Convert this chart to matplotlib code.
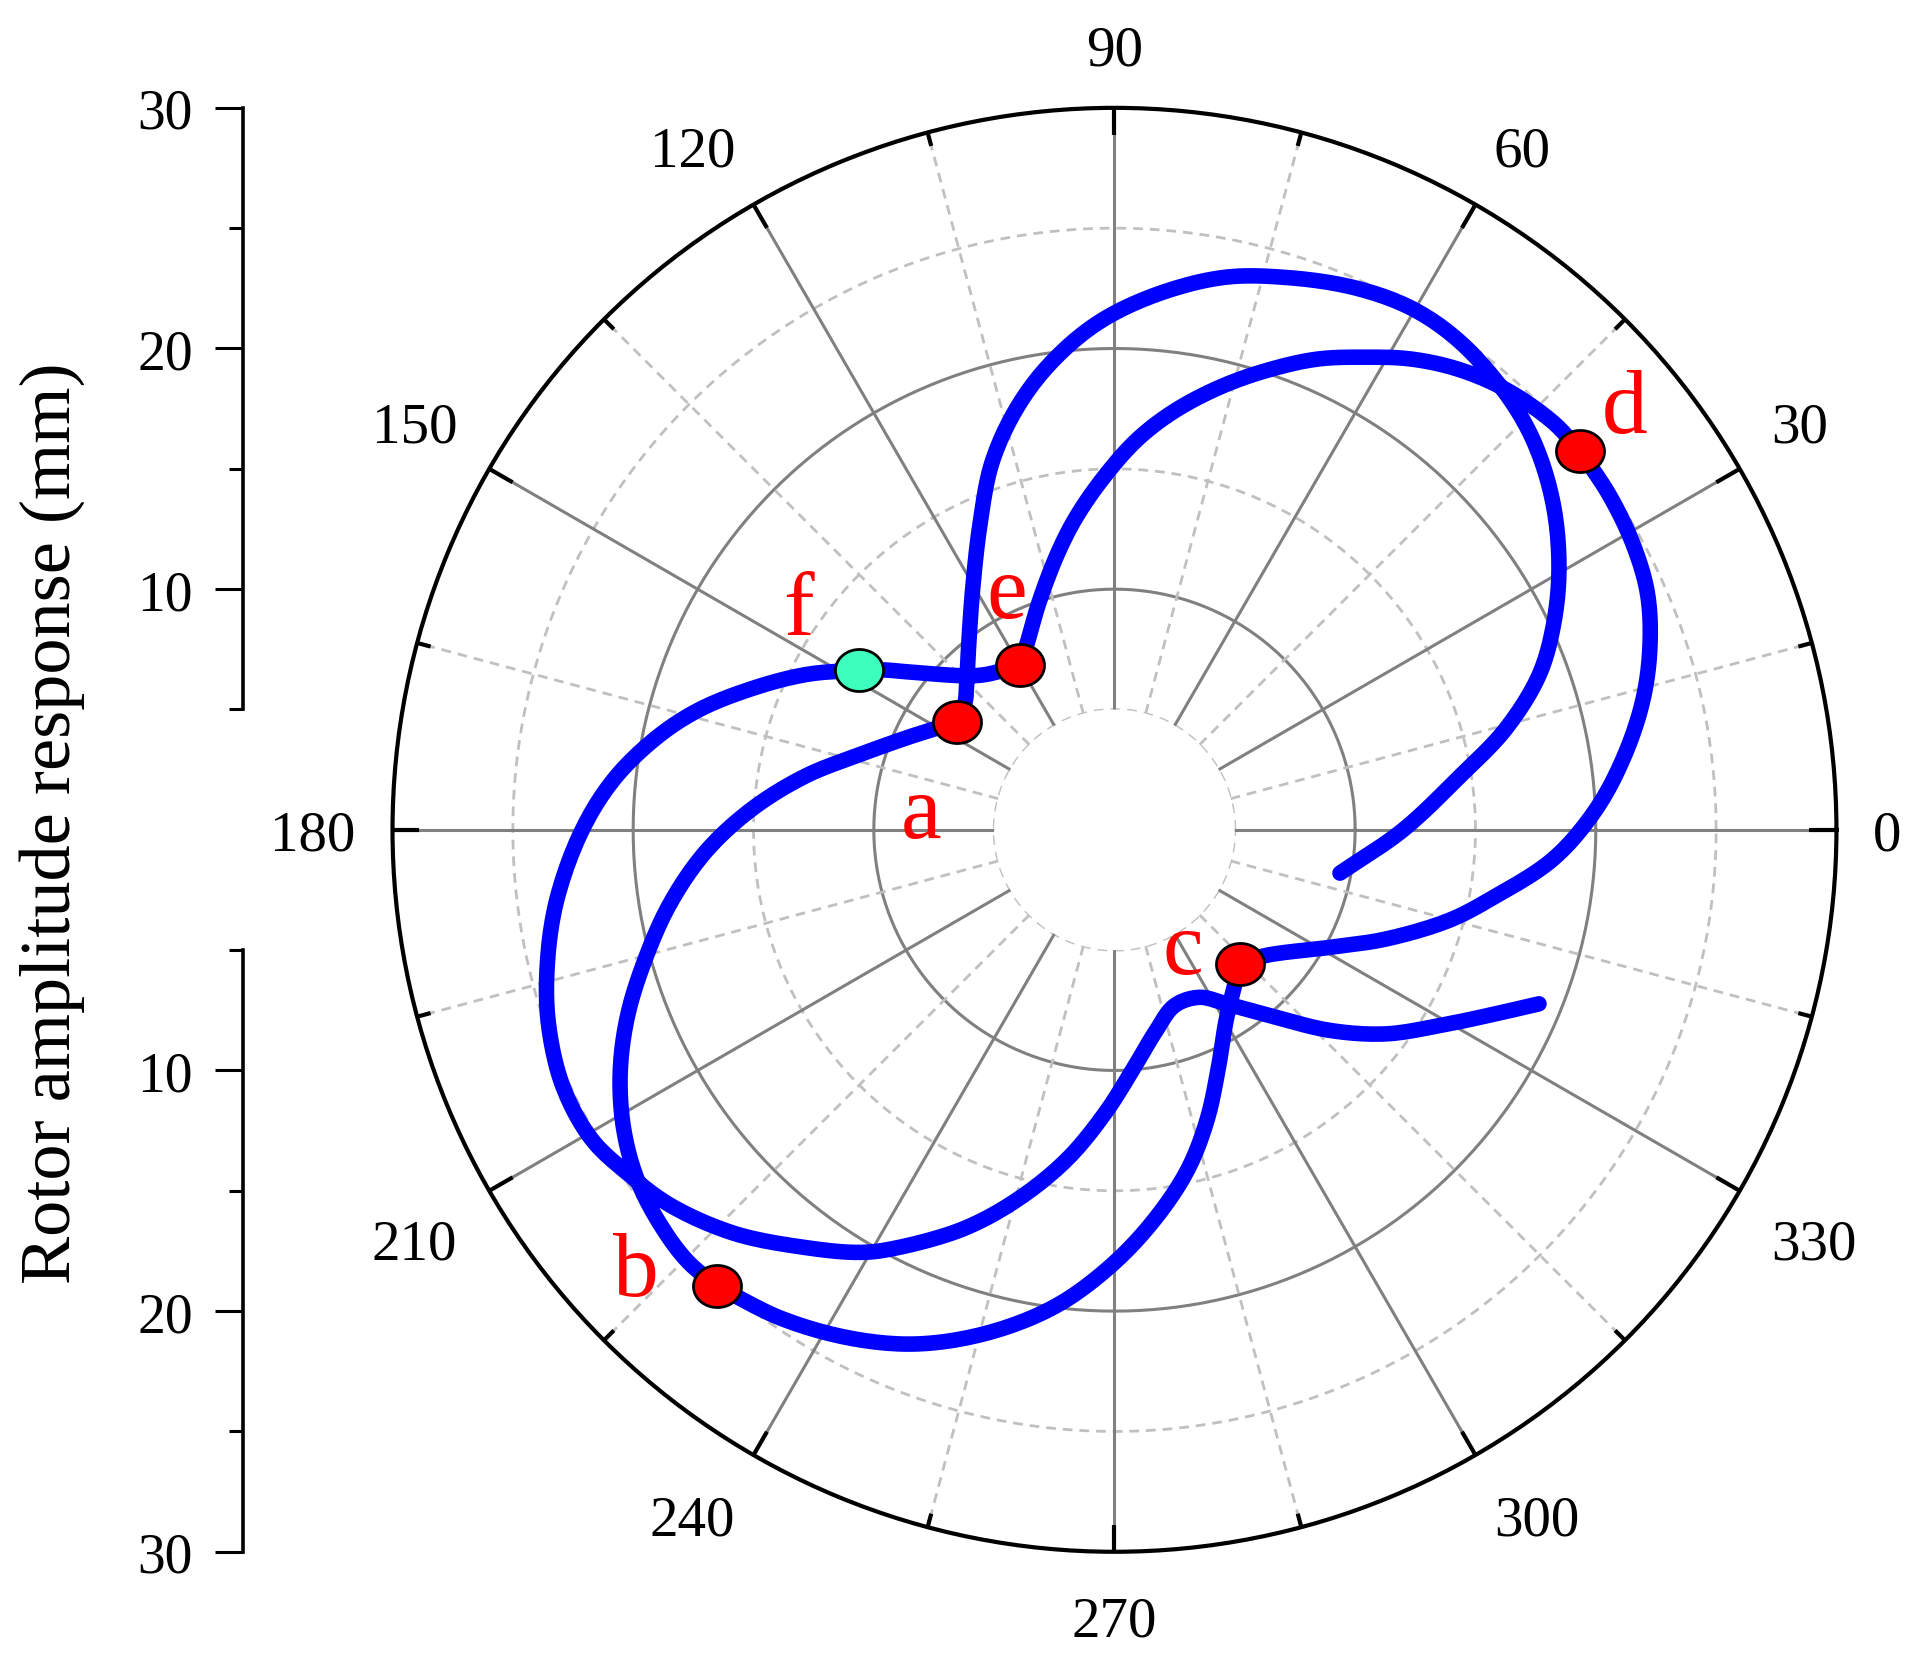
import numpy as np
import matplotlib
matplotlib.use('Agg')
import matplotlib.pyplot as plt
from matplotlib.path import Path

plt.rcParams['font.family'] = ['Liberation Serif', 'DejaVu Serif']

# rotor orbit, x / y displacement in mm
orbit_x = [
    # start -> a
    9.37, 11.96, 14.31, 16.27, 17.64, 18.23, 18.47, 18.23, 17.45, 16.27, 14.31, 12.35, 10.00,
    7.16, 4.51, 1.57, -0.79, -2.74, -4.11, -5.10, -5.59, -5.88, -6.04, -6.14, -6.21, -6.53,
    # a -> b
    -8.38, -10.60, -12.83, -15.06, -16.98, -18.46, -19.51, -20.24, -20.54, -20.39, -19.80,
    -18.76, -17.72, -16.51,
    # b -> c
    -13.80, -10.84, -8.11, -5.14, -2.41, -0.13, 1.69, 3.06, 3.86, 4.31, 4.65, 4.99, 5.22,
    # c -> d
    6.25, 8.98, 11.27, 13.91, 15.69, 18.23, 19.99, 21.17, 21.96, 22.25, 22.15, 21.56, 20.58, 19.35,
    # d -> e
    18.23, 16.27, 14.31, 12.35, 10.39, 8.43, 6.47, 4.51, 2.55, 0.98, -0.39, -1.57, -2.35,
    -3.13, -3.62, -3.92,
    # e -> f
    -5.31, -6.14, -8.08, -9.67, -10.63,
    # f -> end
    -12.83, -15.06, -17.28, -19.06, -20.84, -22.17, -23.21, -23.58, -23.51, -22.91, -21.73,
    -20.24, -18.46, -15.80, -12.83, -10.60, -9.24, -6.28, -4.00, -1.95, -0.36, 0.78, 1.69,
    2.49, 3.52, 4.65, 6.70, 8.98, 11.27, 13.54, 15.82, 17.64,
]
orbit_y = [
    -1.80, -0.03, 2.18, 4.21, 6.42, 8.45, 10.83, 13.54, 16.08, 18.12, 20.32, 21.67, 22.52,
    22.95, 22.95, 22.18, 21.00, 19.30, 17.44, 15.23, 12.69, 10.15, 7.98, 6.13, 5.30, 4.49,
    3.91, 3.12, 2.24, 0.87, -0.90, -3.05, -5.40, -7.76, -10.11, -12.46, -14.62,
    -16.58, -17.95, -18.97,
    -20.32, -21.15, -21.36, -20.87, -19.77, -18.10, -16.16, -14.09, -12.01, -9.93, -7.86, -6.47, -5.57,
    -5.23, -4.88, -4.54, -3.76, -2.84, -1.21, 0.82, 3.03, 5.40, 7.60, 9.81, 11.84, 13.88, 15.74,
    16.93, 18.29, 19.13, 19.56, 19.64, 19.56, 19.13, 18.45, 17.44, 16.25, 14.72, 13.03, 11.51,
    9.47, 7.78, 6.84,
    6.46, 6.40, 6.52, 6.65, 6.65,
    6.45, 5.87, 4.98, 3.81, 2.05, -0.11, -3.05, -5.80, -8.15, -10.69, -12.85,
    -14.27, -15.60, -16.77, -17.36, -17.56, -17.41, -16.58, -15.34, -13.67, -11.73, -9.93, -8.41,
    -7.31, -6.96, -7.23, -7.79, -8.34, -8.48, -8.13, -7.65, -7.23,
]

# marked states on the orbit
point_labels = ['a', 'b', 'c', 'd', 'e', 'f']
point_x = [-6.53, -16.51, 5.22, 19.35, -3.92, -10.63]
point_y = [4.49, -18.97, -5.57, 15.74, 6.84, 6.65]

theta_ticks = list(range(0, 360, 30))
r_major = [10, 20, 30]
r_minor = [5, 15, 25]

R_MIN, R_MAX = 5, 30
PX = 0.4422  # one screen pixel of the reference in points

# letter placement relative to its marker, in points
label_offset = {'a': (-13.0, -41.4), 'b': (-29.1, -3.0), 'c': (-20.7, -3.3),
                'd': (16.1, 7.0), 'e': (-4.7, 17.4), 'f': (-21.7, 12.8)}
point_color = {'f': '#3CFFBE'}


def spline_connect(px, py, n=12):
    # centripetal Catmull-Rom line connection (like Origin's "spline" connect)
    pts = np.column_stack([px, py])
    if len(pts) < 3:
        return pts
    p = np.vstack([2 * pts[0] - pts[1], pts, 2 * pts[-1] - pts[-2]])
    out = []
    for i in range(1, len(p) - 2):
        p0, p1, p2, p3 = p[i - 1], p[i], p[i + 1], p[i + 2]
        t0 = 0.0
        t1 = t0 + np.linalg.norm(p1 - p0) ** 0.5
        t2 = t1 + np.linalg.norm(p2 - p1) ** 0.5
        t3 = t2 + np.linalg.norm(p3 - p2) ** 0.5
        t = np.linspace(t1, t2, n, endpoint=False)[:, None]
        a1 = (t1 - t) / (t1 - t0) * p0 + (t - t0) / (t1 - t0) * p1
        a2 = (t2 - t) / (t2 - t1) * p1 + (t - t1) / (t2 - t1) * p2
        a3 = (t3 - t) / (t3 - t2) * p2 + (t - t2) / (t3 - t2) * p3
        b1 = (t2 - t) / (t2 - t0) * a1 + (t - t0) / (t2 - t0) * a2
        b2 = (t3 - t) / (t3 - t1) * a2 + (t - t1) / (t3 - t1) * a3
        out.append((t2 - t) / (t2 - t1) * b1 + (t - t1) / (t2 - t1) * b2)
    out.append(pts[-1:])
    return np.vstack(out)


fig = plt.figure(figsize=(9.63, 8.28), dpi=200)
ax = fig.add_axes([0.2038, 0.0623, 0.7497, 0.8720], projection='polar')
ax.set_rorigin(0)
ax.set_xticks([])
ax.set_yticks([])
ax.grid(False)
ax.spines['polar'].set_linewidth(1.5)
ax.spines['polar'].set_color('black')
ax.spines['inner'].set_edgecolor('none')

# grid: solid every 30 deg / 10 mm, dashed in between
circ = np.linspace(0, 2 * np.pi, 721)
for rr in [10, 20]:
    ax.plot(circ, np.full_like(circ, rr), color='#808080', lw=1.1, zorder=1)
for rr in [5, 15, 25]:
    ax.plot(circ, np.full_like(circ, rr), color='#c0c0c0', lw=1.0, dashes=(3.5, 2.5), zorder=1)
for deg in range(0, 360, 15):
    a = np.deg2rad(deg)
    if deg % 30 == 0:
        ax.plot([a, a], [R_MIN, R_MAX], color='#808080', lw=1.1, zorder=1)
        ax.plot([a, a], [R_MAX - 1.12, R_MAX], color='black', lw=1.5, zorder=2,
                solid_capstyle='butt')
    else:
        ax.plot([a, a], [R_MIN, R_MAX], color='#c0c0c0', lw=1.0, dashes=(3.5, 2.5), zorder=1)
        ax.plot([a, a], [R_MAX - 0.58, R_MAX], color='black', lw=1.5, zorder=2,
                solid_capstyle='butt')

# angle labels outside the ring
fs = 20.5
for deg in theta_ticks:
    a = np.deg2rad(deg)
    c, s = np.cos(a), np.sin(a)
    if abs(c) < 0.01:
        ha = 'center'
    else:
        ha = 'left' if c > 0 else 'right'
    dx = 30 * c * PX
    if s > 0.01:
        va, dy = 'baseline', (9.5 + 26 * s) * PX
    elif s < -0.01:
        va, dy = 'top', -(9.5 + 26 * abs(s)) * PX
    else:
        va, dy = 'baseline', -0.34 * fs
    ax.annotate(str(deg), xy=(a, R_MAX), xytext=(dx, dy), textcoords='offset points',
                ha=ha, va=va, fontsize=fs, annotation_clip=False)

# orbit, broken at the marked states so the corners stay sharp
ox = np.array(orbit_x)
oy = np.array(orbit_y)
breaks = [0]
for px, py in zip(point_x, point_y):
    breaks.append(int(np.argmin(np.hypot(ox - px, oy - py))))
breaks.append(len(ox) - 1)
breaks = sorted(set(breaks))
pieces = []
for i0, i1 in zip(breaks[:-1], breaks[1:]):
    seg = spline_connect(ox[i0:i1 + 1], oy[i0:i1 + 1])
    pieces.append(seg if not pieces else seg[1:])
line = np.vstack(pieces)
th = np.unwrap(np.arctan2(line[:, 1], line[:, 0]))
rr = np.hypot(line[:, 0], line[:, 1])
ax.plot(th, rr, color='#0000FF', lw=5.6, solid_capstyle='round', solid_joinstyle='round',
        zorder=3)

t = np.linspace(0, 2 * np.pi, 73)
ellipse = Path(np.column_stack([np.cos(t), 0.875 * np.sin(t)]))
for lab, px, py in zip(point_labels, point_x, point_y):
    pth = np.arctan2(py, px)
    pr = np.hypot(px, py)
    ax.plot([pth], [pr], ls='none', marker=ellipse, ms=17.3,
            mfc=point_color.get(lab, '#FF0000'), mec='black', mew=1.0, zorder=5)
    ax.annotate(lab, xy=(pth, pr), xytext=label_offset[lab], textcoords='offset points',
                ha='center', va='baseline', color='#FF0000', fontsize=33, zorder=6,
                annotation_clip=False)

ax.set_ylim(R_MIN, R_MAX)

# Origin-style radial scale on the left, mirrored around the centre
for bottom, lim in [(0.4983, (0, R_MAX)), (0.0623, (R_MAX, 0))]:
    la = fig.add_axes([243 / 1926, bottom, 0.03, 0.4360])
    la.set_ylim(*lim)
    la.patch.set_visible(False)
    for s in ['top', 'right', 'bottom']:
        la.spines[s].set_visible(False)
    la.spines['left'].set_bounds(R_MIN, R_MAX)
    la.spines['left'].set_linewidth(1.3)
    la.set_xticks([])
    la.set_yticks(r_major)
    la.set_yticklabels([str(v) for v in r_major])
    la.set_yticks(r_minor, minor=True)
    la.tick_params(axis='y', which='major', direction='out', length=10, width=1.1,
                   pad=8, labelsize=20)
    la.tick_params(axis='y', which='minor', direction='out', length=5, width=1.1)

fig.text(51.6 / 1926, 1 - 823 / 1656, 'Rotor amplitude response (mm)', rotation=90,
         ha='center', va='center', fontsize=26)

fig.savefig('out.png', dpi=200, facecolor='white')
